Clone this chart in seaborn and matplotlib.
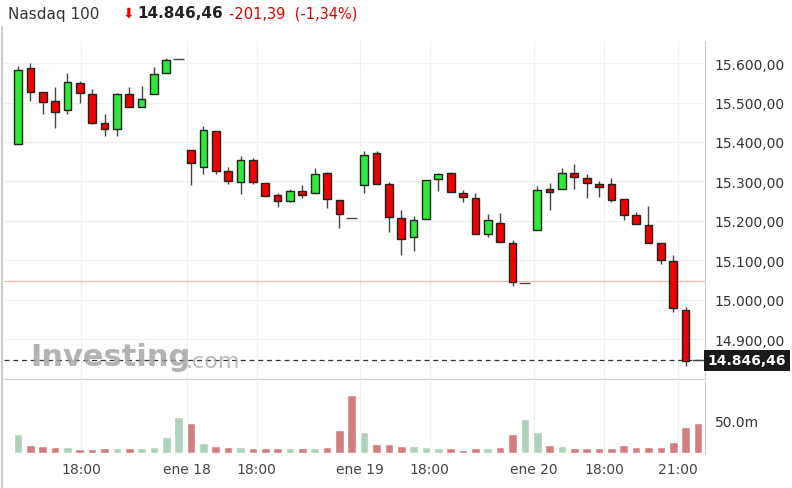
import numpy as np
import pandas as pd
import matplotlib
matplotlib.use("Agg")
import matplotlib.pyplot as plt
import seaborn as sns

# ---- data ----
opens = [15395, 15587, 15526, 15504, 15481, 15549, 15521, 15448, 15433, 15521,
         15488, 15521, 15575, 15610, 15379, 15336, 15428, 15326, 15298, 15354,
         15296, 15265, 15250, 15275, 15270, 15321, 15253, 15207, 15291, 15372,
         15293, 15207, 15159, 15204, 15306, 15321, 15270, 15258, 15166, 15194,
         15144, 15042, 15176, 15280, 15280, 15321, 15308, 15293, 15293, 15255,
         15215, 15189, 15144, 15098, 14974, 14846]
highs = [15592, 15600, 15526, 15539, 15575, 15554, 15534, 15471, 15524, 15539,
         15542, 15590, 15613, 15610, 15379, 15440, 15428, 15336, 15364, 15359,
         15296, 15270, 15280, 15291, 15334, 15324, 15253, 15207, 15377, 15377,
         15298, 15227, 15212, 15303, 15321, 15324, 15278, 15270, 15217, 15220,
         15151, 15042, 15288, 15296, 15334, 15344, 15319, 15301, 15308, 15255,
         15222, 15237, 15144, 15113, 14981, 14846]
lows = [15395, 15504, 15471, 15435, 15471, 15499, 15445, 15415, 15415, 15488,
        15488, 15521, 15575, 15610, 15291, 15319, 15319, 15293, 15268, 15293,
        15263, 15235, 15248, 15258, 15270, 15232, 15182, 15207, 15270, 15293,
        15171, 15113, 15123, 15204, 15275, 15273, 15248, 15166, 15159, 15146,
        15034, 15042, 15176, 15227, 15280, 15280, 15258, 15260, 15248, 15202,
        15192, 15144, 15090, 14969, 14832, 14846]
closes = [15582, 15526, 15501, 15476, 15552, 15524, 15448, 15433, 15521, 15488,
          15509, 15572, 15608, 15610, 15346, 15430, 15326, 15301, 15354, 15298,
          15263, 15250, 15275, 15265, 15319, 15255, 15217, 15207, 15367, 15293,
          15209, 15154, 15202, 15303, 15319, 15273, 15260, 15166, 15202, 15146,
          15045, 15042, 15278, 15273, 15321, 15311, 15296, 15286, 15253, 15215,
          15192, 15144, 15100, 14979, 14844, 14846]
volume_m = [29.6, 12.2, 10.2, 8.2, 8.2, 5.1, 5.1, 6.6, 6.6, 6.6,
            6.6, 8.2, 25.0, 56.1, 46.4, 15.8, 10.2, 8.2, 8.2, 6.6,
            6.6, 6.6, 6.6, 6.6, 6.6, 8.2, 35.2, 90.7, 31.6, 14.3,
            14.3, 10.2, 10.2, 8.2, 6.6, 6.6, 4.1, 6.6, 6.6, 8.2,
            29.6, 52.0, 31.6, 12.2, 10.2, 6.6, 6.6, 6.6, 6.6, 12.2,
            8.2, 8.2, 8.2, 16.3, 40.8, 46.4]
vol_up = [1, 0, 0, 0, 1, 0, 0, 0, 1, 0, 1, 1, 1, 1, 0, 1, 0, 0, 1, 0,
          0, 0, 1, 0, 1, 0, 0, 0, 1, 0, 0, 0, 1, 1, 1, 0, 0, 0, 1, 0,
          0, 1, 1, 0, 1, 0, 0, 0, 0, 0, 0, 0, 0, 0, 0, 0]
tick_pos = [5.1, 13.7, 19.3, 27.7, 33.3, 41.7, 47.4, 53.4]
tick_labels = ["18:00", "ene 18", "18:00", "ene 19", "18:00", "ene 20", "18:00", "21:00"]
price_ticks = [14900, 15000, 15100, 15200, 15300, 15400, 15500, 15600]
prev_close = 15047.85
last_price = 14846.46

GREEN, RED = "#2ee83a", "#f00000"
VGREEN, VRED = "#a8d8b8", "#e07070"


def es_fmt(v):
    s = f"{v:,.2f}"
    return s.replace(",", "X").replace(".", ",").replace("X", ".")


sns.set_style("white")
fig = plt.figure(figsize=(7.92, 4.89), dpi=100)
W, H = 792, 489
ax = fig.add_axes([4 / W, (H - 380) / H, 701 / W, 338 / H])
axv = fig.add_axes([4 / W, (H - 455) / H, 701 / W, 73 / H], sharex=ax)

n = len(opens)
x = np.arange(n)
# grid
for t in tick_pos:
    ax.axvline(t, color="#f0f0f0", lw=0.8, zorder=0)
    axv.axvline(t, color="#f0f0f0", lw=0.8, zorder=0)
for p in price_ticks:
    ax.axhline(p, color="#f0f0f0", lw=0.8, zorder=0)

# candles
for i in range(n):
    o, h, l, c = opens[i], highs[i], lows[i], closes[i]
    if o == c:
        ax.hlines(o, i - 0.45, i + 0.45, color="#444444", lw=1, zorder=3)
        continue
    col = GREEN if c > o else RED
    ax.vlines(i, l, h, color="#444444", lw=1, zorder=2)
    ax.bar(i, abs(c - o), bottom=min(o, c), width=0.62, color=col,
           edgecolor="#222222", linewidth=1, zorder=3)

ax.axhline(prev_close, color="#f2b8a8", lw=0.9, zorder=1)
ax.axhline(last_price, color="#333333", lw=0.9, ls=(0, (4, 3)), zorder=1)
ax.set_xlim(-1.13, 55.57)
ax.set_ylim(14799, 15656)
ax.set_yticks(price_ticks)
ax.set_yticklabels([es_fmt(p) for p in price_ticks])
ax.yaxis.tick_right()
ax.tick_params(axis="y", length=0, labelsize=10, labelcolor="#333333", pad=7)
ax.tick_params(axis="x", length=0, labelbottom=False)
for s in ["top", "left"]:
    ax.spines[s].set_visible(False)
ax.spines["right"].set_color("#cccccc")
ax.spines["bottom"].set_color("#cccccc")
ax.text(1.004, (last_price - 14799) / (15656 - 14799), es_fmt(last_price),
        transform=ax.transAxes, color="white", fontsize=10, fontweight="bold",
        va="center", ha="left",
        bbox=dict(boxstyle="square,pad=0.25", fc="#1a1a1a", ec="none"))

# volume
vdf = pd.DataFrame({"idx": x, "vol": volume_m,
                    "up": ["up" if u else "down" for u in vol_up]})
sns.barplot(data=vdf, x="idx", y="vol", hue="up", palette={"up": VGREEN, "down": VRED},
            native_scale=True, width=0.7, legend=False, ax=axv, zorder=2)
axv.set_ylim(-2, 112)
axv.set_yticks([50])
axv.set_yticklabels(["50.0m"])
axv.yaxis.tick_right()
axv.tick_params(axis="y", length=0, labelsize=10, labelcolor="#333333", pad=7)
axv.set_xticks(tick_pos)
axv.set_xticklabels(tick_labels)
axv.tick_params(axis="x", length=0, labelsize=10, labelcolor="#444444", pad=6)
axv.set_xlabel("")
axv.set_ylabel("")
for s in ["top", "left", "bottom"]:
    axv.spines[s].set_visible(False)
axv.spines["right"].set_color("#cccccc")
axv.set_xlim(-1.13, 55.57)

# header
fig.text(8 / W, 1 - 14 / H, "Nasdaq 100", fontsize=11, color="#333333", va="center")
fig.text(123 / W, 1 - 14 / H, "\u2b07", fontsize=10, color="#e00000", va="center")
fig.text(137 / W, 1 - 14 / H, es_fmt(last_price), fontsize=11, fontweight="bold",
         color="#222222", va="center")
fig.text(229 / W, 1 - 14 / H, "-201,39  (-1,34%)", fontsize=10.5, color="#e00000",
         va="center")
fig.text(30 / W, 1 - 358 / H, "Investing", fontsize=22, fontweight="bold",
         color="#a0a0a0", alpha=0.8, va="center")
fig.text(186 / W, 1 - 362 / H, ".com", fontsize=16, color="#a8a8a8", alpha=0.8,
         va="center")
fig.add_artist(plt.Line2D([0.002, 0.002], [0, 1 - 28 / H], color="#cccccc", lw=1.5))

fig.savefig("out.png", dpi=100, facecolor="white")
